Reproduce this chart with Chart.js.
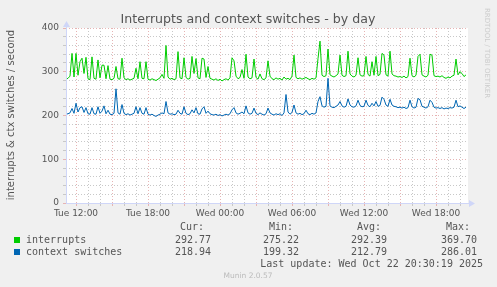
<!DOCTYPE html>
<html>
<head>
<meta charset="utf-8">
<script src="https://cdn.jsdelivr.net/npm/chart.js@4/dist/chart.umd.min.js"></script>
<style>
body { margin: 0; background: #f0f0f0; }
canvas { display: block; }
</style>
</head>
<body>
<canvas id="grafico" width="497" height="287"></canvas>
<script>
// values, one point every 10 minutes from Tue 11:10
var inicio = 670; // minutes since Tue 00:00
var passo = 10;

var interrupts = [
    283, 285, 290, 342, 288, 342, 292, 323, 331, 296,
    333, 284, 282, 334, 285, 283, 327, 286, 315, 315,
    284, 314, 283, 282, 285, 312, 284, 283, 331, 286,
    282, 284, 281, 283, 285, 308, 284, 323, 285, 284,
    323, 283, 281, 284, 282, 280, 283, 286, 294, 285,
    360, 288, 283, 285, 282, 284, 346, 286, 284, 332,
    287, 283, 285, 335, 296, 330, 286, 284, 331, 329,
    287, 312, 285, 283, 281, 284, 280, 283, 279, 282,
    284, 281, 286, 332, 325, 290, 284, 287, 305, 285,
    340, 288, 284, 286, 329, 287, 283, 295, 284, 282,
    286, 325, 290, 284, 282, 286, 283, 285, 281, 288,
    283, 285, 282, 290, 338, 287, 284, 286, 283, 285,
    287, 284, 282, 285, 283, 286, 330, 370, 292, 289,
    291, 352, 293, 290, 288, 291, 295, 338, 292, 289,
    291, 347, 295, 290, 288, 292, 332, 293, 290, 291,
    335, 294, 290, 323, 292, 335, 291, 294, 342, 338,
    293, 290, 347, 295, 291, 290, 288, 289, 287, 290,
    286, 289, 331, 291, 288, 292, 335, 340, 293, 290,
    288, 292, 340, 338, 291, 289, 290, 288, 291, 287,
    285, 288, 286, 290, 292, 329, 293, 300, 296, 289,
    293
];

var contextSwitches = [
    203, 204, 206, 216, 205, 228, 208, 218, 220, 207,
    218, 204, 203, 218, 204, 203, 220, 205, 210, 222,
    204, 212, 203, 202, 205, 261, 206, 203, 225, 205,
    202, 204, 201, 203, 205, 220, 204, 218, 205, 203,
    218, 203, 201, 203, 200, 198, 201, 203, 206, 204,
    232, 206, 203, 204, 202, 203, 212, 205, 203, 220,
    205, 202, 204, 213, 206, 218, 204, 203, 215, 220,
    205, 210, 204, 202, 201, 203, 200, 202, 199, 201,
    203, 201, 204, 213, 218, 206, 203, 205, 208, 204,
    222, 206, 203, 205, 217, 205, 202, 206, 203, 201,
    204, 217, 206, 203, 201, 204, 202, 204, 200, 206,
    248, 208, 203, 207, 224, 206, 203, 205, 202, 204,
    212, 204, 202, 205, 203, 206, 232, 243, 222, 219,
    221, 285, 222, 219, 218, 221, 224, 232, 222, 219,
    221, 238, 224, 220, 219, 222, 235, 223, 220, 221,
    235, 223, 220, 228, 222, 232, 221, 223, 242, 237,
    224, 221, 237, 224, 221, 220, 218, 219, 217, 219,
    216, 218, 235, 220, 217, 219, 239, 236, 221, 219,
    217, 220, 235, 230, 219, 217, 218, 216, 218, 215,
    217, 216, 218, 217, 219, 235, 220, 222, 219, 216,
    219
];

var nomes = ['interrupts', 'context switches'];
var cores = ['#00cc00', '#0066b3'];
var cur = ['292.77', '218.94'];
var min = ['275.22', '199.32'];
var avg = ['292.39', '212.79'];
var max = ['369.70', '286.01'];

var rotulosX = { 720: 'Tue 12:00', 1080: 'Tue 18:00', 1440: 'Wed 00:00', 1800: 'Wed 06:00', 2160: 'Wed 12:00', 2520: 'Wed 18:00' };
var rotulosY = [0, 100, 200, 300, 400];

var titulo = 'Interrupts and context switches - by day';
var tituloY = 'interrupts & ctx switches / second';
var ultimaAtualizacao = 'Last update: Wed Oct 22 20:30:19 2025';

function pontos(valores) {
    var lista = [];
    for (var i = 0; i < valores.length; i++) {
        lista.push({ x: inicio + i * passo, y: valores[i] });
    }
    return lista;
}

var vermelho = '#e6b4b4';
var cinza = '#c8c8c8';
var eixo = '#cfd6f8';
var texto = '#555555';

var extras = {
    id: 'extras',
    beforeDraw: function (chart) {
        var c = chart.ctx;
        var a = chart.chartArea;
        c.save();
        c.fillStyle = '#f0f0f0';
        c.fillRect(0, 0, chart.width, chart.height);
        c.fillStyle = '#ffffff';
        c.fillRect(a.left, a.top, a.right - a.left, a.bottom - a.top);
        c.restore();
    },
    afterDraw: function (chart) {
        var c = chart.ctx;
        var a = chart.chartArea;
        c.save();

        // axes with arrows
        c.strokeStyle = eixo;
        c.fillStyle = eixo;
        c.lineWidth = 1;
        c.beginPath();
        c.moveTo(a.left + 0.5, a.bottom);
        c.lineTo(a.left + 0.5, a.top - 4);
        c.moveTo(a.left, a.bottom + 0.5);
        c.lineTo(a.right + 3, a.bottom + 0.5);
        c.stroke();
        c.beginPath();
        c.moveTo(a.left - 3, a.top - 1);
        c.lineTo(a.left + 4, a.top - 1);
        c.lineTo(a.left + 0.5, a.top - 7);
        c.closePath();
        c.fill();
        c.beginPath();
        c.moveTo(a.right + 1, a.bottom - 3);
        c.lineTo(a.right + 1, a.bottom + 4);
        c.lineTo(a.right + 7, a.bottom + 0.5);
        c.closePath();
        c.fill();

        // title
        c.fillStyle = texto;
        c.font = '12.6px "DejaVu Sans"';
        c.textAlign = 'center';
        c.textBaseline = 'alphabetic';
        c.fillText(titulo, 248, 23);

        // y axis title
        c.save();
        c.translate(11, 115);
        c.rotate(-Math.PI / 2);
        c.font = '10px "DejaVu Sans"';
        c.textBaseline = 'middle';
        c.fillText(tituloY, 0, 0);
        c.restore();

        // rrdtool credit
        c.save();
        c.translate(487, 53);
        c.rotate(Math.PI / 2);
        c.fillStyle = '#cccccc';
        c.font = '7px "DejaVu Sans"';
        c.textBaseline = 'middle';
        c.fillText('RRDTOOL / TOBI OETIKER', 0, 0);
        c.restore();

        // legend
        c.font = '10px "DejaVu Sans Mono"';
        c.textBaseline = 'middle';
        c.fillStyle = texto;
        c.textAlign = 'right';
        c.fillText('Cur:', 204, 227);
        c.fillText('Min:', 293, 227);
        c.fillText('Avg:', 381, 227);
        c.fillText('Max:', 470, 227);
        for (var i = 0; i < nomes.length; i++) {
            var y = 240 + i * 12;
            c.fillStyle = cores[i];
            c.fillRect(14, y - 3, 6, 6);
            c.fillStyle = texto;
            c.textAlign = 'left';
            c.fillText(nomes[i], 26, y);
            c.textAlign = 'right';
            c.fillText(cur[i], 211, y);
            c.fillText(min[i], 299, y);
            c.fillText(avg[i], 387, y);
            c.fillText(max[i], 477, y);
        }
        c.fillText(ultimaAtualizacao, 483, 264);

        c.textAlign = 'center';
        c.fillStyle = '#bbbbbb';
        c.font = '7.5px "DejaVu Sans"';
        c.fillText('Munin 2.0.57', 248, 276);

        c.restore();
    }
};

new Chart(document.getElementById('grafico'), {
    type: 'line',
    data: {
        datasets: [{
            label: nomes[0],
            data: pontos(interrupts),
            borderColor: cores[0],
            borderWidth: 1,
            pointRadius: 0,
            tension: 0
        }, {
            label: nomes[1],
            data: pontos(contextSwitches),
            borderColor: cores[1],
            borderWidth: 1,
            pointRadius: 0,
            tension: 0
        }]
    },
    options: {
        responsive: false,
        animation: false,
        layout: { padding: { top: 28, right: 29, left: 0, bottom: 0 } },
        plugins: { legend: { display: false }, tooltip: { enabled: false } },
        scales: {
            x: {
                type: 'linear',
                min: 670,
                max: 2680,
                afterFit: function (s) { s.height = 84; },
                border: { display: false, dash: [1, 2] },
                grid: {
                    borderDash: [1, 2],
                    tickLength: 3,
                    color: function (ctx) {
                        return ctx.tick && ctx.tick.value % 180 == 0 ? vermelho : cinza;
                    }
                },
                ticks: {
                    stepSize: 60,
                    includeBounds: false,
                    autoSkip: false,
                    maxRotation: 0,
                    minRotation: 0,
                    padding: 2,
                    color: texto,
                    font: { family: 'DejaVu Sans', size: 9 },
                    callback: function (v) { return rotulosX[v] || ''; }
                }
            },
            y: {
                min: 0,
                max: 400,
                afterFit: function (s) { s.width = 66; },
                border: { display: false, dash: [1, 2] },
                grid: {
                    borderDash: [1, 2],
                    tickLength: 3,
                    color: function (ctx) {
                        return ctx.tick && ctx.tick.value % 100 == 0 ? vermelho : cinza;
                    }
                },
                ticks: {
                    stepSize: 20,
                    autoSkip: false,
                    padding: 4,
                    color: texto,
                    font: { family: 'DejaVu Sans', size: 9 },
                    callback: function (v) { return rotulosY.indexOf(v) >= 0 ? v : ''; }
                }
            }
        }
    },
    plugins: [extras]
});
</script>
</body>
</html>
